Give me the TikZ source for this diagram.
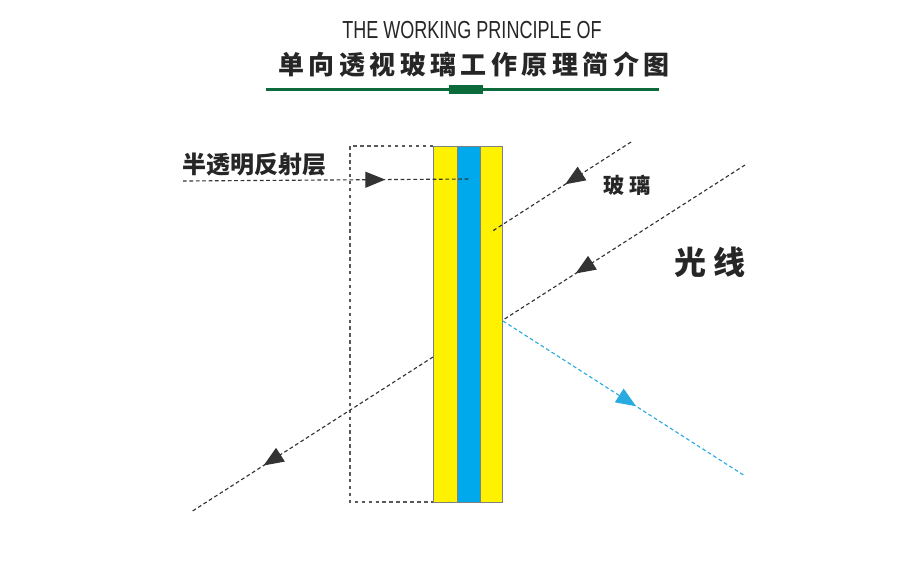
\documentclass[tikz,border=0pt]{standalone}
\usepackage{fontspec}
\setmainfont{Liberation Sans}
\newfontfamily\cjk{Noto Sans CJK SC}
\newfontfamily\cjkwide[LetterSpace=19]{Noto Sans CJK SC}
\newfontfamily\cjktitle[LetterSpace=17]{Noto Sans CJK SC}
\newfontfamily\titlefont[FakeStretch=0.73]{Liberation Sans}
\usetikzlibrary{arrows.meta, decorations.markings}
\definecolor{barblue}{HTML}{00A9EC}
\definecolor{raycyan}{HTML}{29ABE2}
\definecolor{rulegreen}{HTML}{0B6B3A}
\tikzset{
  bar/.style = {draw = black!50, line width = 0.6pt, inner sep = 0, outer sep = 0, anchor = north west, minimum height = 267pt},
  ray/.style = {line width = 0.85pt, dash pattern = on 2.8pt off 2pt, draw = black!80},
  boxline/.style = {line width = 0.8pt, dash pattern = on 2.6pt off 2.6pt, draw = black!65},
  midtip/.style = {postaction = {decorate, decoration = {markings, mark = at position #1 with {\arrow{Triangle[length = 15pt, width = 12pt]}}}}},
  label/.style = {inner sep = 0, text = black!85}
}

\begin{document}
\begin{tikzpicture}[x=0.75pt, y=-0.75pt]
  \useasboundingbox (0, 0) rectangle (900, 578);

  % title
  \node [label] (heading) at (472, 30) {\titlefont\fontsize{18.5}{20}\selectfont THE WORKING PRINCIPLE OF};
  \node [label] (subheading) at (474, 65) {\cjktitle\bfseries\fontsize{19.5}{22}\selectfont 单向透视玻璃工作原理简介图};
  \coordinate (ruleleft) at (266, 89.5);
  \coordinate (ruleright) at (659, 89.5);
  \draw [rulegreen, line width = 2pt] (ruleleft) -- (ruleright);
  \fill [rulegreen] (449, 84.5) rectangle (483, 93.5);

  % glass
  \node [bar, fill = yellow, minimum width = 18pt] (front) at (433, 146) {};
  \node [bar, fill = barblue, minimum width = 17.25pt] (middle) at (457, 146) {};
  \node [bar, fill = yellow, minimum width = 16.5pt] (back) at (480, 146) {};

  % reflective layer
  \coordinate (boxtop) at (350, 146);
  \coordinate (boxbottom) at (350, 502);
  \draw [boxline] (front.north west) -- (boxtop) -- (boxbottom) -- (front.south west);
  \coordinate (layerleft) at (183, 181);
  \coordinate (layerright) at (470, 179);
  \draw [ray, midtip = 0.705] (layerleft) -- (layerright);

  % rays
  \coordinate (rayonea) at (631, 142);
  \coordinate (rayoneb) at (491, 232);
  \draw [ray, midtip = 0.47] (rayonea) -- (rayoneb);
  \coordinate (raytwoa) at (745, 165);
  \coordinate (raytwob) at (503, 320);
  \coordinate (raytwoc) at (433, 357);
  \coordinate (raytwod) at (191, 512);
  \draw [ray, midtip = 0.70] (raytwoa) -- (raytwob);
  \draw [ray, midtip = 0.70] (raytwoc) -- (raytwod);
  \coordinate (reflecta) at (503, 321);
  \coordinate (reflectb) at (745, 476);
  \draw [ray, draw = raycyan!70, midtip = 0.55, raycyan] (reflecta) -- (reflectb);

  % labels
  \node [label] (layerlabel) at (254, 165) {\cjk\bfseries\fontsize{18}{20}\selectfont 半透明反射层};
  \node [label] (glasslabel) at (627, 185) {\cjkwide\bfseries\fontsize{16}{18}\selectfont 玻璃};
  \node [label] (raylabel) at (710, 262) {\cjkwide\bfseries\fontsize{24}{26}\selectfont 光线};
\end{tikzpicture}
\end{document}
